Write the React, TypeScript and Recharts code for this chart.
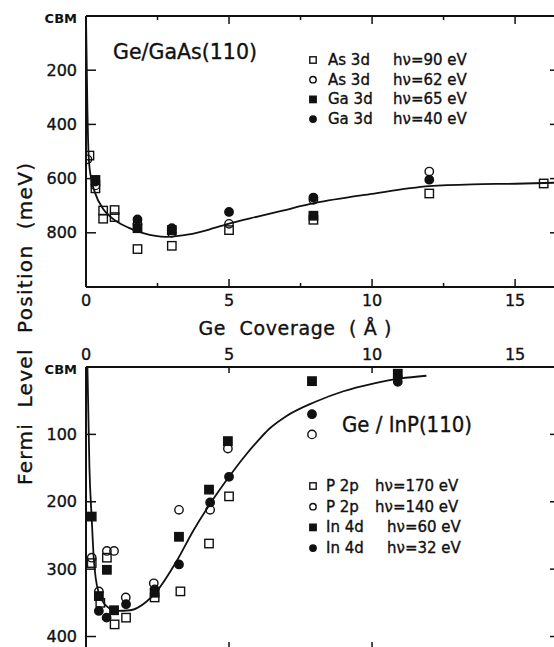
import React from 'react';
import { ComposedChart, Scatter, Line, XAxis, YAxis } from 'recharts';

type P = { x: number; y: number };

// ---------- Top panel: Ge/GaAs(110) ----------
const gaasAs90: P[] = [
  { x: 0.12, y: 515 }, { x: 0.33, y: 636 }, { x: 0.6, y: 718 }, { x: 0.6, y: 748 },
  { x: 1.0, y: 716 }, { x: 1.0, y: 742 }, { x: 1.8, y: 860 }, { x: 3.0, y: 848 },
  { x: 5.0, y: 790 }, { x: 7.95, y: 752 }, { x: 12.0, y: 655 }, { x: 16.0, y: 618 },
];
const gaasAs62: P[] = [
  { x: 0.05, y: 529 }, { x: 0.33, y: 625 }, { x: 1.8, y: 767 }, { x: 3.0, y: 800 },
  { x: 5.0, y: 767 }, { x: 7.95, y: 678 }, { x: 12.0, y: 574 },
];
const gaasGa65: P[] = [
  { x: 0.33, y: 605 }, { x: 1.8, y: 783 }, { x: 3.0, y: 790 }, { x: 7.95, y: 737 },
];
const gaasGa40: P[] = [
  { x: 0.33, y: 611 }, { x: 1.8, y: 751 }, { x: 3.0, y: 783 }, { x: 5.0, y: 723 },
  { x: 7.95, y: 670 }, { x: 12.0, y: 604 },
];
const gaasCurve: P[] = [
  { x: 0, y: 0 }, { x: 0.05, y: 350 }, { x: 0.1, y: 530 }, { x: 0.2, y: 610 },
  { x: 0.3, y: 648 }, { x: 0.6, y: 712 }, { x: 0.85, y: 740 }, { x: 1.5, y: 782 },
  { x: 2.0, y: 801 }, { x: 2.8, y: 815 }, { x: 3.6, y: 806 }, { x: 4.3, y: 788 },
  { x: 5.0, y: 766 }, { x: 6.0, y: 740 }, { x: 6.8, y: 720 }, { x: 8.0, y: 690 },
  { x: 10.0, y: 656 }, { x: 12.0, y: 628 }, { x: 13.5, y: 621 }, { x: 15.0, y: 619 },
  { x: 16.5, y: 615 },
];

// ---------- Bottom panel: Ge/InP(110) ----------
const inpP170: P[] = [
  { x: 0.2, y: 291 }, { x: 0.5, y: 350 }, { x: 0.73, y: 283 }, { x: 1.0, y: 382 },
  { x: 1.4, y: 372 }, { x: 2.4, y: 342 }, { x: 3.3, y: 333 }, { x: 4.3, y: 262 },
  { x: 5.0, y: 192 },
];
const inpP140: P[] = [
  { x: 0.2, y: 283 }, { x: 0.45, y: 333 }, { x: 0.73, y: 273 }, { x: 0.98, y: 273 },
  { x: 1.39, y: 342 }, { x: 2.37, y: 321 }, { x: 3.25, y: 212 }, { x: 4.34, y: 212 },
  { x: 4.96, y: 121 }, { x: 7.9, y: 100 },
];
const inpIn60: P[] = [
  { x: 0.2, y: 222 }, { x: 0.45, y: 340 }, { x: 0.73, y: 301 }, { x: 0.98, y: 361 },
  { x: 2.4, y: 335 }, { x: 3.25, y: 252 }, { x: 4.3, y: 182 }, { x: 4.96, y: 110 },
  { x: 7.9, y: 21 }, { x: 10.9, y: 10 },
];
const inpIn32: P[] = [
  { x: 0.45, y: 362 }, { x: 0.72, y: 372 }, { x: 1.4, y: 352 }, { x: 2.4, y: 330 },
  { x: 3.25, y: 293 }, { x: 4.34, y: 201 }, { x: 5.0, y: 163 }, { x: 7.9, y: 70 },
  { x: 10.9, y: 15 }, { x: 10.9, y: 22 },
];
const inpCurve: P[] = [
  { x: 0.05, y: 0 }, { x: 0.12, y: 150 }, { x: 0.2, y: 225 }, { x: 0.27, y: 283 },
  { x: 0.43, y: 333 }, { x: 0.72, y: 355 }, { x: 1.07, y: 362 }, { x: 1.54, y: 361 },
  { x: 2.12, y: 348 }, { x: 2.47, y: 333 }, { x: 3.17, y: 288 }, { x: 3.75, y: 243 },
  { x: 4.34, y: 203 }, { x: 5.0, y: 163 }, { x: 5.5, y: 135 }, { x: 6.0, y: 110 },
  { x: 6.4, y: 92 }, { x: 7.0, y: 73 }, { x: 8.0, y: 52 }, { x: 9.0, y: 36 },
  { x: 10.0, y: 25 }, { x: 11.0, y: 17 }, { x: 11.9, y: 13 },
];

// ---------- ticks & labels ----------
const xDomain: [number, number] = [0, 16.5];
const gaasXTicks = [0, 2.5, 5, 7.5, 10, 12.5, 15];
const gaasTopTicks = [2.5, 5, 7.5, 10, 12.5, 15];
const inpXTicks = [0, 5, 10, 15];
const inpBottomTicks = [5, 10];
const gaasYTicks = [0, 200, 400, 600, 800];
const gaasRightTicks = [200, 400, 600, 800];
const inpYTicks = [0, 100, 200, 300, 400];
const inpRightTicks = [100, 200, 300, 400];
const cbmLabel = 'CBM';
const gaasTitle = 'Ge/GaAs(110)';
const inpTitle = 'Ge / InP(110)';
const xLabel = 'Ge  Coverage  ( Å )';
const yLabel = 'Fermi  Level  Position  (meV)';

const gaasLegend = [
  { core: 'As 3d', energy: 'hν=90 eV', marker: 'openSquare' },
  { core: 'As 3d', energy: 'hν=62 eV', marker: 'openCircle' },
  { core: 'Ga 3d', energy: 'hν=65 eV', marker: 'filledSquare' },
  { core: 'Ga 3d', energy: 'hν=40 eV', marker: 'filledCircle' },
];
const inpLegend = [
  { core: 'P 2p', energy: 'hν=170 eV', marker: 'openSquare' },
  { core: 'P 2p', energy: 'hν=140 eV', marker: 'openCircle' },
  { core: 'In 4d', energy: 'hν=60 eV', marker: 'filledSquare' },
  { core: 'In 4d', energy: 'hν=32 eV', marker: 'filledCircle' },
];

const FONT = '"DejaVu Sans", "Liberation Sans", sans-serif';
const INK = '#111';
const textInk = { fill: INK, stroke: INK, strokeWidth: 0.35 };

function Marker({ kind, cx, cy, r }: { kind: string; cx: number; cy: number; r: number }) {
  if (cx == null || cy == null || isNaN(cx) || isNaN(cy)) return null;
  const filled = kind.startsWith('filled');
  const fill = filled ? INK : 'none';
  if (kind.endsWith('Square')) {
    return <rect x={cx - r} y={cy - r} width={2 * r} height={2 * r} fill={fill} stroke={INK} strokeWidth={1.4} />;
  }
  return <circle cx={cx} cy={cy} r={r} fill={fill} stroke={INK} strokeWidth={1.4} />;
}

const shapeOf = (kind: string) => (p: any) => <Marker kind={kind} cx={p.cx} cy={p.cy} r={4.2} />;

const makeLeftTick = () => (p: any) => {
  const v = p.payload.value;
  return (
    <g>
      {v !== 0 && <line x1={p.x} y1={p.y} x2={p.x + 10} y2={p.y} stroke={INK} strokeWidth={1.5} />}
      {v === 0 ? (
        <text x={p.x - 9} y={p.y + 2} textAnchor="end" dominantBaseline="central" fontFamily={FONT} fontSize={13} fontWeight="bold" fill={INK}>
          {cbmLabel}
        </text>
      ) : (
        <text x={p.x - 9} y={p.y} textAnchor="end" dominantBaseline="central" fontFamily={FONT} fontSize={16} {...textInk}>
          {v}
        </text>
      )}
    </g>
  );
};

const makeRightTick = () => (p: any) => (
  <line x1={p.x} y1={p.y} x2={p.x - 8} y2={p.y} stroke={INK} strokeWidth={1.5} />
);

const makeHTick = (dir: number, labelOffset: number | null, majorLen: number, minorLen: number) => (p: any) => {
  const v = p.payload.value;
  const major = v % 5 === 0;
  return (
    <g>
      {v !== 0 && (
        <line x1={p.x} y1={p.y} x2={p.x} y2={p.y + dir * (major ? majorLen : minorLen)} stroke={INK} strokeWidth={1.5} />
      )}
      {labelOffset !== null && major && (
        <text x={p.x} y={p.y + labelOffset} textAnchor="middle" dominantBaseline="central" fontFamily={FONT} fontSize={16} {...textInk}>
          {v}
        </text>
      )}
    </g>
  );
};

const axisLine = { stroke: INK, strokeWidth: 2 };

function Legend({ items, x, y0, dy, col1, col2 }: { items: typeof gaasLegend; x: number; y0: number; dy: number; col1: number; col2: number[] }) {
  return (
    <g>
      {items.map((it, i) => {
        const y = y0 + i * dy;
        return (
          <g key={i}>
            <Marker kind={it.marker} cx={x} cy={y} r={3.2} />
            <text x={col1} y={y} dominantBaseline="central" fontFamily={FONT} fontSize={15} {...textInk}>{it.core}</text>
            <text x={col2[i]} y={y} dominantBaseline="central" fontFamily={FONT} fontSize={15} {...textInk}>{it.energy}</text>
          </g>
        );
      })}
    </g>
  );
}

export default function App() {
  return (
    <div style={{ position: 'fixed', left: 0, top: 0, width: 554, height: 647, overflow: 'hidden', background: '#fff' }}>
      {/* Top panel */}
      <div style={{ position: 'absolute', left: 0, top: 0 }}>
        <ComposedChart width={600} height={340} margin={{ top: 6, right: 32, bottom: 23, left: 36 }}>
          <XAxis xAxisId="b" type="number" dataKey="x" orientation="bottom" domain={xDomain} allowDataOverflow
            ticks={gaasXTicks} interval={0} height={30} tickSize={0} tickMargin={0} axisLine={axisLine}
            tick={makeHTick(-1, 13, 8, 4)} />
          <XAxis xAxisId="t" type="number" dataKey="x" orientation="top" domain={xDomain} allowDataOverflow
            ticks={gaasTopTicks} interval={0} height={10} tickSize={0} tickMargin={0} axisLine={axisLine}
            tick={makeHTick(1, null, 8, 4)} />
          <YAxis yAxisId="l" type="number" dataKey="y" orientation="left" domain={[0, 1000]} reversed allowDataOverflow
            ticks={gaasYTicks} interval={0} width={50} tickSize={0} tickMargin={0} axisLine={axisLine}
            tick={makeLeftTick()} />
          <YAxis yAxisId="r" type="number" dataKey="y" orientation="right" domain={[0, 1000]} reversed allowDataOverflow
            ticks={gaasRightTicks} interval={0} width={10} tickSize={0} tickMargin={0} axisLine={axisLine}
            tick={makeRightTick()} />
          <Line xAxisId="b" yAxisId="l" data={gaasCurve} dataKey="y" type="monotone" stroke={INK} strokeWidth={1.8}
            dot={false} activeDot={false} isAnimationActive={false} />
          <Scatter xAxisId="b" yAxisId="l" data={gaasAs90} dataKey="y" shape={shapeOf('openSquare')} isAnimationActive={false} />
          <Scatter xAxisId="b" yAxisId="l" data={gaasAs62} dataKey="y" shape={shapeOf('openCircle')} isAnimationActive={false} />
          <Scatter xAxisId="b" yAxisId="l" data={gaasGa65} dataKey="y" shape={shapeOf('filledSquare')} isAnimationActive={false} />
          <Scatter xAxisId="b" yAxisId="l" data={gaasGa40} dataKey="y" shape={shapeOf('filledCircle')} isAnimationActive={false} />
        </ComposedChart>
      </div>

      {/* Bottom panel */}
      <div style={{ position: 'absolute', left: 0, top: 330 }}>
        <ComposedChart width={600} height={340} margin={{ top: 12, right: 32, bottom: 10, left: 36 }}>
          <XAxis xAxisId="t" type="number" dataKey="x" orientation="top" domain={xDomain} allowDataOverflow
            ticks={inpXTicks} interval={0} height={25} tickSize={0} tickMargin={0} axisLine={axisLine}
            tick={(p: any) => {
              const v = p.payload.value;
              return (
                <g>
                  {(v === 5 || v === 10) && <line x1={p.x} y1={p.y} x2={p.x} y2={p.y + 6} stroke={INK} strokeWidth={1.5} />}
                  <text x={p.x} y={p.y - 13} textAnchor="middle" dominantBaseline="central" fontFamily={FONT} fontSize={16} {...textInk}>{v}</text>
                </g>
              );
            }} />
          <XAxis xAxisId="b" type="number" dataKey="x" orientation="bottom" domain={xDomain} allowDataOverflow
            ticks={inpBottomTicks} interval={0} height={10} tickSize={0} tickMargin={0} axisLine={axisLine}
            tick={makeHTick(-1, null, 8, 4)} />
          <YAxis yAxisId="l" type="number" dataKey="y" orientation="left" domain={[0, 420]} reversed allowDataOverflow
            ticks={inpYTicks} interval={0} width={50} tickSize={0} tickMargin={0} axisLine={axisLine}
            tick={makeLeftTick()} />
          <YAxis yAxisId="r" type="number" dataKey="y" orientation="right" domain={[0, 420]} reversed allowDataOverflow
            ticks={inpRightTicks} interval={0} width={10} tickSize={0} tickMargin={0} axisLine={axisLine}
            tick={makeRightTick()} />
          <Line xAxisId="t" yAxisId="l" data={inpCurve} dataKey="y" type="monotone" stroke={INK} strokeWidth={1.8}
            dot={false} activeDot={false} isAnimationActive={false} />
          <Scatter xAxisId="t" yAxisId="l" data={inpP170} dataKey="y" shape={shapeOf('openSquare')} isAnimationActive={false} />
          <Scatter xAxisId="t" yAxisId="l" data={inpP140} dataKey="y" shape={shapeOf('openCircle')} isAnimationActive={false} />
          <Scatter xAxisId="t" yAxisId="l" data={inpIn60} dataKey="y" shape={shapeOf('filledSquare')} isAnimationActive={false} />
          <Scatter xAxisId="t" yAxisId="l" data={inpIn32} dataKey="y" shape={shapeOf('filledCircle')} isAnimationActive={false} />
        </ComposedChart>
      </div>

      {/* Text overlay: titles, legends, axis titles */}
      <svg width={554} height={647} style={{ position: 'absolute', left: 0, top: 0, pointerEvents: 'none' }}>
        <text x={113} y={52} dominantBaseline="central" fontFamily={FONT} fontSize={21} {...textInk} textLength={144} lengthAdjust="spacingAndGlyphs">{gaasTitle}</text>
        <text x={342} y={425} dominantBaseline="central" fontFamily={FONT} fontSize={21} {...textInk} textLength={130} lengthAdjust="spacingAndGlyphs" style={{ whiteSpace: 'pre' }}>{inpTitle}</text>
        <Legend items={gaasLegend} x={313} y0={60} dy={19.7} col1={328} col2={[393, 393, 393, 393]} />
        <Legend items={inpLegend} x={313} y0={486} dy={20.7} col1={326} col2={[375, 375, 387, 387]} />
        <text x={295} y={328} textAnchor="middle" dominantBaseline="central" fontFamily={FONT} fontSize={19} {...textInk} textLength={193} lengthAdjust="spacing" style={{ whiteSpace: 'pre' }}>{xLabel}</text>
        <text transform="translate(25,324) rotate(-90)" textAnchor="middle" dominantBaseline="central" fontFamily={FONT} fontSize={20} {...textInk} textLength={322} lengthAdjust="spacing" style={{ whiteSpace: 'pre' }}>{yLabel}</text>
      </svg>
    </div>
  );
}
